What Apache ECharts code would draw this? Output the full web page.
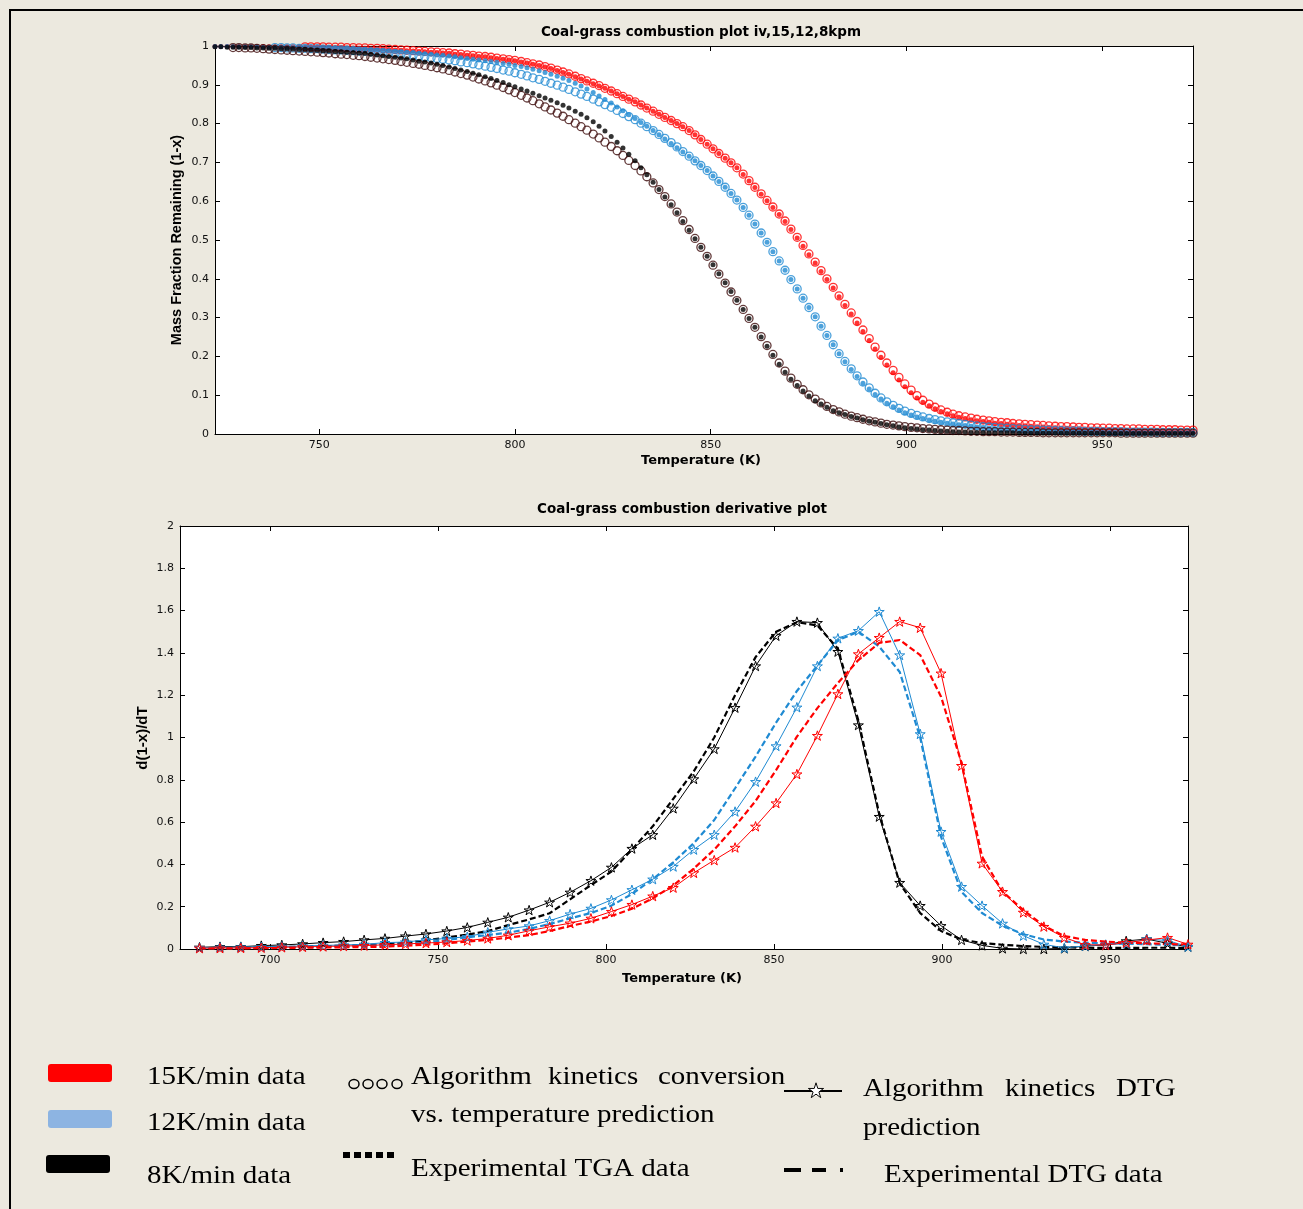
<!DOCTYPE html>
<html>
<head>
<meta charset="utf-8">
<script src="https://cdn.jsdelivr.net/npm/echarts@6/dist/echarts.min.js"></script>
<style>
  html, body { margin: 0; padding: 0; background: #ECE9DF; }
  #chart { width: 1303px; height: 1209px; }
</style>
</head>
<body>
<div id="chart"></div>
<script>
// ---------- TGA (mass fraction remaining) ----------
const tgaTemp = [
  723.4,724.9,726.5,728.0,729.5,731.1,732.6,734.1,735.7,737.2,
  738.7,740.3,741.8,743.3,744.9,746.4,747.9,749.5,751.0,752.5,
  754.1,755.6,757.1,758.7,760.2,761.7,763.2,764.8,766.3,767.8,
  769.4,770.9,772.4,774.0,775.5,777.0,778.6,780.1,781.6,783.2,
  784.7,786.2,787.8,789.3,790.8,792.4,793.9,795.4,797.0,798.5,
  800.0,801.6,803.1,804.6,806.2,807.7,809.2,810.8,812.3,813.8,
  815.4,816.9,818.4,820.0,821.5,823.0,824.6,826.1,827.6,829.1,
  830.7,832.2,833.7,835.3,836.8,838.3,839.9,841.4,842.9,844.5,
  846.0,847.5,849.1,850.6,852.1,853.7,855.2,856.7,858.3,859.8,
  861.3,862.9,864.4,865.9,867.5,869.0,870.5,872.1,873.6,875.1,
  876.7,878.2,879.7,881.3,882.8,884.3,885.9,887.4,888.9,890.5,
  892.0,893.5,895.0,896.6,898.1,899.6,901.2,902.7,904.2,905.8,
  907.3,908.8,910.4,911.9,913.4,915.0,916.5,918.0,919.6,921.1,
  922.6,924.2,925.7,927.2,928.8,930.3,931.8,933.4,934.9,936.4,
  938.0,939.5,941.0,942.6,944.1,945.6,947.2,948.7,950.2,951.8,
  953.3,954.8,956.3,957.9,959.4,960.9,962.5,964.0,965.5,967.1,
  968.6,970.1,971.7,973.2
];

// 15 K/min
const tgaRedExp = [
  .999,.999,.999,.999,.999,.999,.999,.999,.999,.998,
  .998,.998,.998,.998,.998,.997,.997,.997,.997,.997,
  .996,.996,.995,.995,.994,.994,.993,.993,.992,.991,
  .990,.989,.988,.987,.986,.985,.984,.983,.982,.981,
  .979,.978,.976,.975,.973,.972,.970,.968,.966,.964,
  .962,.959,.956,.953,.950,.946,.942,.937,.932,.927,
  .921,.915,.909,.903,.897,.891,.884,.877,.870,.863,
  .856,.848,.840,.832,.824,.816,.808,.800,.792,.782,
  .771,.759,.747,.735,.723,.711,.699,.686,.669,.652,
  .635,.618,.601,.584,.566,.548,.527,.505,.484,.462,
  .441,.419,.398,.376,.354,.331,.309,.286,.264,.241,
  .219,.198,.178,.158,.139,.122,.106,.093,.082,.073,
  .065,.058,.052,.047,.043,.040,.037,.034,.032,.030,
  .028,.027,.025,.024,.022,.021,.020,.019,.018,.017,
  .016,.015,.015,.014,.013,.013,.012,.012,.011,.011,
  .010,.010,.009,.009,.008,.008,.008,.007,.007,.007,
  .006,.006,.006,.006
];
const tgaRedPred = [
  null,null,null,null,null,null,null,null,null,null,
  null,null,null,null,null,.998,.998,.998,.998,.997,
  .997,.997,.996,.996,.995,.995,.994,.994,.993,.992,
  .991,.990,.989,.988,.987,.986,.985,.984,.983,.982,
  .980,.979,.977,.976,.974,.973,.971,.969,.967,.965,
  .963,.960,.957,.954,.951,.947,.943,.938,.933,.928,
  .922,.916,.910,.904,.898,.891,.884,.877,.870,.863,
  .856,.848,.840,.832,.824,.816,.808,.800,.792,.782,
  .771,.759,.747,.735,.723,.711,.699,.686,.670,.653,
  .636,.619,.602,.585,.567,.549,.528,.507,.486,.464,
  .443,.421,.400,.378,.356,.334,.312,.290,.268,.246,
  .224,.203,.183,.164,.146,.129,.113,.099,.087,.077,
  .069,.062,.056,.051,.047,.044,.041,.038,.036,.034,
  .032,.030,.029,.027,.026,.025,.024,.023,.022,.021,
  .020,.019,.019,.018,.017,.017,.016,.016,.015,.015,
  .014,.014,.013,.013,.013,.012,.012,.012,.011,.011,
  .011,.010,.010,.010
];

// 12 K/min
const tgaBlueExp = [
  .999,.999,.999,.999,.998,.998,.998,.998,.997,.997,
  .997,.997,.996,.996,.996,.996,.995,.995,.995,.994,
  .994,.993,.993,.992,.991,.991,.990,.989,.988,.987,
  .986,.985,.984,.983,.981,.980,.979,.977,.976,.974,
  .972,.970,.968,.966,.964,.962,.960,.958,.955,.953,
  .950,.947,.944,.940,.936,.932,.927,.922,.917,.911,
  .904,.897,.889,.880,.871,.862,.853,.843,.833,.823,
  .813,.803,.793,.782,.771,.760,.749,.738,.727,.716,
  .704,.692,.679,.665,.651,.636,.620,.603,.584,.564,
  .541,.518,.494,.470,.446,.422,.398,.374,.350,.326,
  .302,.278,.254,.230,.207,.186,.166,.148,.131,.116,
  .102,.090,.079,.070,.062,.055,.049,.044,.040,.036,
  .033,.030,.028,.026,.024,.022,.020,.018,.017,.015,
  .014,.013,.012,.011,.010,.009,.009,.008,.008,.007,
  .007,.006,.006,.006,.005,.005,.005,.004,.004,.004,
  .004,.004,.004,.003,.003,.003,.003,.003,.003,.003,
  .003,.003,.003,.003
];
const tgaBluePred = [
  null,null,null,null,null,null,null,null,null,null,
  .996,.996,.995,.995,.994,.994,.993,.993,.992,.991,
  .990,.990,.989,.988,.987,.986,.985,.984,.983,.981,
  .980,.979,.977,.976,.974,.972,.970,.968,.966,.964,
  .962,.959,.957,.954,.951,.948,.945,.942,.938,.935,
  .931,.927,.923,.918,.914,.909,.904,.899,.894,.888,
  .882,.876,.870,.863,.856,.849,.842,.834,.826,.818,
  .810,.801,.792,.782,.772,.762,.751,.740,.728,.716,
  .704,.692,.679,.665,.651,.636,.620,.603,.584,.564,
  .541,.518,.494,.470,.446,.422,.398,.374,.350,.326,
  .302,.278,.254,.230,.207,.187,.168,.150,.134,.119,
  .105,.093,.083,.074,.066,.059,.053,.048,.044,.040,
  .037,.034,.031,.029,.027,.025,.023,.021,.019,.018,
  .017,.016,.015,.014,.013,.012,.011,.011,.010,.010,
  .009,.009,.008,.008,.008,.007,.007,.007,.006,.006,
  .006,.006,.005,.005,.005,.005,.005,.004,.004,.004,
  .004,.004,.004,.004
];

// 8 K/min
const tgaBlackExp = [
  .998,.998,.997,.997,.997,.996,.996,.995,.995,.994,
  .994,.993,.993,.992,.991,.991,.990,.989,.988,.987,
  .986,.985,.984,.983,.982,.981,.979,.977,.975,.973,
  .971,.969,.967,.964,.961,.959,.956,.953,.950,.946,
  .942,.938,.934,.930,.926,.921,.916,.911,.906,.900,
  .895,.889,.884,.878,.872,.866,.860,.854,.847,.840,
  .832,.824,.815,.805,.793,.781,.767,.752,.737,.721,
  .704,.686,.668,.649,.630,.611,.591,.570,.548,.525,
  .503,.481,.458,.436,.413,.390,.367,.345,.321,.298,
  .275,.250,.226,.203,.180,.159,.141,.125,.111,.098,
  .086,.077,.069,.060,.055,.050,.045,.041,.037,.033,
  .030,.027,.024,.021,.018,.016,.014,.013,.011,.010,
  .009,.008,.007,.006,.005,.005,.004,.004,.004,.003,
  .003,.003,.003,.003,.002,.002,.002,.002,.002,.002,
  .002,.002,.002,.002,.002,.002,.002,.002,.002,.001,
  .001,.001,.001,.001,.001,.001,.001,.001,.001,.001,
  .001,.001,.001,.001
];
const tgaBlackPred = [
  null,null,null,.996,.996,.995,.995,.994,.993,.992,
  .991,.990,.989,.988,.987,.986,.985,.984,.983,.982,
  .980,.979,.978,.976,.975,.973,.971,.969,.967,.965,
  .963,.960,.958,.955,.953,.950,.947,.944,.941,.937,
  .933,.929,.925,.920,.915,.910,.905,.899,.893,.887,
  .880,.873,.866,.859,.851,.843,.835,.827,.819,.810,
  .801,.792,.783,.773,.763,.752,.741,.730,.718,.705,
  .692,.678,.663,.647,.630,.612,.593,.572,.550,.527,
  .504,.481,.458,.435,.412,.389,.366,.344,.321,.298,
  .275,.251,.228,.205,.183,.162,.144,.128,.114,.101,
  .090,.080,.071,.063,.057,.051,.046,.042,.038,.034,
  .031,.028,.025,.023,.021,.019,.017,.016,.014,.013,
  .012,.011,.010,.009,.009,.008,.007,.007,.006,.006,
  .006,.005,.005,.005,.004,.004,.004,.004,.003,.003,
  .003,.003,.003,.003,.003,.003,.003,.003,.003,.003,
  .003,.002,.002,.002,.002,.002,.002,.002,.002,.002,
  .002,.002,.002,.002
];

// ---------- DTG (derivative) ----------
const dtgTemp = [
  679.0,685.1,691.3,697.4,703.5,709.7,715.8,721.9,728.0,734.2,
  740.3,746.4,752.6,758.7,764.8,770.9,777.1,783.2,789.3,795.5,
  801.6,807.7,813.9,820.0,826.1,832.2,838.4,844.5,850.6,856.8,
  862.9,869.0,875.1,881.3,887.4,893.5,899.7,905.8,911.9,918.0,
  924.2,930.3,936.4,942.6,948.7,954.8,960.9,967.1,973.2
];
const dtgRedPred = [
  0.004,0.004,0.005,0.006,0.008,0.010,0.012,0.014,0.016,0.020,
  0.024,0.028,0.033,0.040,0.050,0.065,0.086,0.105,0.122,0.145,
  0.177,0.210,0.250,0.290,0.360,0.420,0.480,0.580,0.690,0.827,
  1.009,1.206,1.395,1.472,1.548,1.519,1.304,0.867,0.405,0.271,
  0.173,0.106,0.054,0.020,0.019,0.030,0.042,0.054,0.022
];
const dtgRedExp = [
  0.002,0.003,0.003,0.004,0.005,0.006,0.007,0.008,0.009,0.011,
  0.016,0.020,0.027,0.035,0.043,0.054,0.066,0.085,0.109,0.130,
  0.156,0.190,0.240,0.300,0.380,0.470,0.580,0.700,0.846,1.004,
  1.139,1.258,1.366,1.447,1.461,1.390,1.193,0.880,0.437,0.271,
  0.184,0.110,0.061,0.043,0.035,0.030,0.027,0.024,0.020
];
const dtgBluePred = [
  0.006,0.008,0.009,0.010,0.012,0.014,0.017,0.019,0.022,0.030,
  0.033,0.043,0.050,0.058,0.079,0.095,0.109,0.134,0.165,0.192,
  0.232,0.280,0.330,0.390,0.470,0.540,0.650,0.791,0.960,1.143,
  1.338,1.469,1.505,1.595,1.390,1.017,0.555,0.295,0.205,0.121,
  0.063,0.022,0.005,0.015,0.021,0.025,0.047,0.040,0.011
];
const dtgBlueExp = [
  0.003,0.004,0.005,0.006,0.007,0.008,0.010,0.012,0.015,0.018,
  0.022,0.030,0.043,0.055,0.066,0.077,0.095,0.118,0.145,0.170,
  0.205,0.260,0.330,0.410,0.500,0.610,0.760,0.910,1.070,1.220,
  1.340,1.460,1.500,1.430,1.310,1.000,0.530,0.270,0.170,0.110,
  0.070,0.045,0.035,0.030,0.027,0.025,0.023,0.020,0.016
];
const dtgBlackPred = [
  0.008,0.011,0.011,0.016,0.019,0.024,0.030,0.035,0.043,0.050,
  0.061,0.071,0.085,0.102,0.126,0.150,0.184,0.221,0.268,0.323,
  0.386,0.475,0.540,0.665,0.804,0.946,1.141,1.338,1.481,1.548,
  1.543,1.406,1.059,0.626,0.314,0.205,0.110,0.043,0.017,0.003,
  0.000,0.000,0.003,0.014,0.019,0.038,0.047,0.027,0.011
];
const dtgBlackExp = [
  0.004,0.005,0.006,0.007,0.009,0.011,0.013,0.016,0.019,0.023,
  0.030,0.040,0.055,0.068,0.085,0.113,0.140,0.169,0.235,0.302,
  0.366,0.470,0.580,0.710,0.840,1.000,1.200,1.380,1.500,1.545,
  1.530,1.420,1.080,0.640,0.310,0.170,0.085,0.045,0.028,0.020,
  0.014,0.010,0.008,0.006,0.005,0.005,0.006,0.006,0.005
];

// ---------- axis ticks ----------
const tgaTempTicks = [750, 800, 850, 900, 950];
const dtgTempTicks = [700, 750, 800, 850, 900, 950];

// ---------- drawing ----------
const RED = '#ff0000';
const BLUE = '#1f8ad2';
const BLACK = '#000000';
const BLACK_RING = '#3c0a0a';
const STAR_PATH = 'M0,-10L2.25,-3.09L9.51,-3.09L3.63,1.18L5.88,8.09L0,3.82L-5.88,8.09L-3.63,1.18L-9.51,-3.09L-2.25,-3.09Z';
// same outline as a point list, for the legend key
const STAR_POINTS = [[0,-10],[2.25,-3.09],[9.51,-3.09],[3.63,1.18],[5.88,8.09],[0,3.82],
                     [-5.88,8.09],[-3.63,1.18],[-9.51,-3.09],[-2.25,-3.09]];

const toPairs = (xs, ys) => xs.map((x, i) => [x, ys[i]]).filter(p => p[1] !== null);

const tickFont = { color: '#111', fontSize: 11, fontFamily: 'DejaVu Sans' };

function xAxes(gridIndex, min, max, ticks) {
  const base = {
    type: 'value', gridIndex, min, max,
    axisLine: { show: true, onZero: false, lineStyle: { color: '#000', width: 1 } },
    axisTick: { show: true, inside: true, length: 5, customValues: ticks, lineStyle: { color: '#000' } },
    splitLine: { show: false }
  };
  return [
    Object.assign({}, base, { position: 'bottom', axisLabel: Object.assign({ customValues: ticks, margin: 6 }, tickFont) }),
    Object.assign({}, base, { position: 'top', axisLabel: { show: false } })
  ];
}
function yAxes(gridIndex, min, max, interval) {
  const base = {
    type: 'value', gridIndex, min, max, interval,
    axisLine: { show: true, onZero: false, lineStyle: { color: '#000', width: 1 } },
    axisTick: { show: true, inside: true, length: 5, lineStyle: { color: '#000' } },
    splitLine: { show: false }
  };
  return [
    Object.assign({}, base, { position: 'left', axisLabel: Object.assign({ margin: 6 }, tickFont) }),
    Object.assign({}, base, { position: 'right', axisLabel: { show: false } })
  ];
}

function ringSeries(ys, color) {
  return {
    type: 'scatter', xAxisIndex: 0, yAxisIndex: 0, silent: true,
    data: toPairs(tgaTemp, ys), symbol: 'circle', symbolSize: 8,
    itemStyle: { color: 'rgba(0,0,0,0)', borderColor: color, borderWidth: 1.3 }
  };
}
function dotSeries(ys, color) {
  return {
    type: 'scatter', xAxisIndex: 0, yAxisIndex: 0, silent: true,
    data: toPairs(tgaTemp, ys), symbol: 'circle', symbolSize: 5,
    itemStyle: { color: color }
  };
}
function starSeries(ys, color) {
  return {
    type: 'line', xAxisIndex: 2, yAxisIndex: 2, silent: true,
    data: toPairs(dtgTemp, ys), symbol: 'path://' + STAR_PATH, symbolSize: 10,
    symbolKeepAspect: true, showSymbol: true,
    itemStyle: { color: 'rgba(0,0,0,0)', borderColor: color, borderWidth: 1 },
    lineStyle: { color: color, width: 1 }
  };
}
function dashSeries(ys, color) {
  return {
    type: 'line', xAxisIndex: 2, yAxisIndex: 2, silent: true,
    data: toPairs(dtgTemp, ys), symbol: 'none',
    lineStyle: { color: color, width: 2.2, type: [6, 3] }
  };
}

const sansBold = 'DejaVu Sans';
function label(text, x, y, size, family, rotation) {
  return {
    type: 'text', x, y, rotation: rotation || 0, z: 100, silent: true,
    style: { text, fontFamily: family, fontWeight: 'bold', fontSize: size, fill: '#000', align: 'center', verticalAlign: 'middle' }
  };
}
function serif(text, x, y) {
  return {
    type: 'text', x, y, scaleX: 1.16, z: 100, silent: true,
    style: { text, fontFamily: '"Liberation Serif", "Times New Roman", serif', fontSize: 25, fill: '#000', align: 'left', verticalAlign: 'middle' }
  };
}
function seg(x1, y1, x2, y2, w, dash) {
  return {
    type: 'line', z: 100, silent: true,
    shape: { x1, y1, x2, y2 },
    style: { stroke: '#000', lineWidth: w, lineDash: dash || null }
  };
}
function ring(cx, cy) {
  return {
    type: 'ellipse', z: 100, silent: true,
    shape: { cx, cy, rx: 5, ry: 4.5 },
    style: { fill: 'none', stroke: '#000', lineWidth: 1.5 }
  };
}
function swatch(x, y, color) {
  return {
    type: 'rect', z: 100, silent: true,
    shape: { x, y, width: 64, height: 18, r: 3 },
    style: { fill: color }
  };
}

const graphic = [
  // outer frame
  { type: 'polyline', z: 100, silent: true, shape: { points: [[10, 1215], [10, 10], [1310, 10]] },
    style: { stroke: '#000', lineWidth: 2, fill: null } },
  // titles and axis names
  label('Coal-grass combustion plot iv,15,12,8kpm', 701, 32, 13.5, sansBold),
  label('Temperature (K)', 701, 461, 13, sansBold),
  label('Mass Fraction Remaining (1-x)', 177, 240, 14.5, '"Liberation Sans", Arial', Math.PI / 2),
  label('Coal-grass combustion derivative plot', 682, 509, 13.5, sansBold),
  label('Temperature (K)', 682, 979, 13, sansBold),
  label('d(1-x)/dT', 143, 738, 15, '"Liberation Sans", Arial', Math.PI / 2),
  // legend: heating rates
  swatch(48, 1064, '#ff0000'),
  swatch(48, 1110, '#8db4e2'),
  swatch(46, 1155, '#000000'),
  serif('15K/min data', 147, 1077),
  serif('12K/min data', 147, 1123),
  serif('8K/min data', 147, 1176),
  // legend: TGA
  ring(354, 1084), ring(368, 1084), ring(382, 1084), ring(397, 1084),
  serif('Algorithm', 411, 1077),
  serif('kinetics', 548, 1077),
  serif('conversion', 658, 1077),
  serif('vs. temperature prediction', 411, 1115),
  seg(343, 1155, 397, 1155, 6, [7, 4]),
  serif('Experimental TGA data', 411, 1169),
  // legend: DTG
  seg(784, 1091, 842, 1091, 2),
  { type: 'polygon', z: 101, silent: true, x: 816, y: 1091, scaleX: 0.8, scaleY: 0.82,
    shape: { points: STAR_POINTS },
    style: { fill: '#ffffff', stroke: '#000', lineWidth: 1.2 } },
  serif('Algorithm', 863, 1089),
  serif('kinetics', 1005, 1089),
  serif('DTG', 1116, 1089),
  serif('prediction', 863, 1128),
  seg(784, 1170, 801, 1170, 4),
  seg(812, 1170, 826, 1170, 4),
  seg(840, 1170, 843, 1170, 4),
  serif('Experimental DTG data', 884, 1175)
];

const option = {
  animation: false,
  backgroundColor: '#ECE9DF',
  grid: [
    { left: 215, top: 46, width: 978, height: 388, show: true, backgroundColor: '#ffffff', borderWidth: 0, containLabel: false, outerBoundsMode: 'none' },
    { left: 180, top: 526, width: 1008, height: 423, show: true, backgroundColor: '#ffffff', borderWidth: 0, containLabel: false, outerBoundsMode: 'none' }
  ],
  xAxis: [].concat(xAxes(0, 723.4, 973.2, tgaTempTicks), xAxes(1, 673.2, 973.2, dtgTempTicks)),
  yAxis: [].concat(yAxes(0, 0, 1, 0.1), yAxes(1, 0, 2, 0.2)),
  series: [
    ringSeries(tgaRedPred, RED), dotSeries(tgaRedExp, RED),
    ringSeries(tgaBluePred, BLUE), dotSeries(tgaBlueExp, BLUE),
    ringSeries(tgaBlackPred, BLACK_RING), dotSeries(tgaBlackExp, BLACK),
    starSeries(dtgBlackPred, BLACK), dashSeries(dtgBlackExp, BLACK),
    starSeries(dtgBluePred, BLUE), dashSeries(dtgBlueExp, BLUE),
    starSeries(dtgRedPred, RED), dashSeries(dtgRedExp, RED)
  ],
  graphic: graphic
};

const chart = echarts.init(document.getElementById('chart'), null, { renderer: 'canvas' });
chart.setOption(option);
</script>
</body>
</html>
